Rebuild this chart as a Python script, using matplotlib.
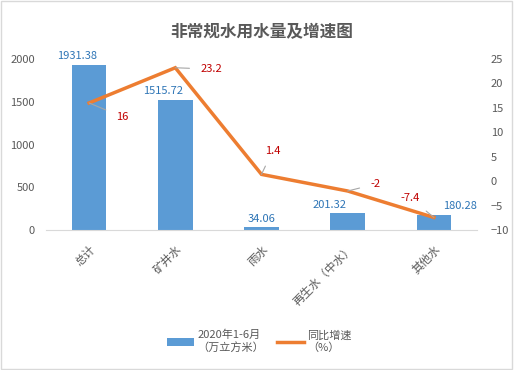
import matplotlib.pyplot as plt
from matplotlib.patches import Rectangle

plt.rcParams['font.family'] = ['Noto Sans CJK SC', 'DejaVu Sans']

# data
categories = ['总计', '矿井水', '雨水', '再生水（中水）', '其他水']
volume = [1931.38, 1515.72, 34.06, 201.32, 180.28]
growth = [16, 23.2, 1.4, -2, -7.4]

bar_color = '#5B9BD5'
line_color = '#ED7D31'
gray = '#595959'

fig = plt.figure(figsize=(5.14, 3.70), dpi=100)
ax = fig.add_axes([0.0895, 0.378, 0.8385, 0.4627])
ax2 = ax.twinx()

x = list(range(len(categories)))
bars = ax.bar(x, volume, width=0.4, color=bar_color, label='2020年1-6月\n（万立方米）')
ax.set_xlim(-0.5, len(categories) - 0.5)
ax.set_ylim(0, 2000)
ax.set_yticks(range(0, 2001, 500))

line, = ax2.plot(x, growth, color=line_color, lw=2.5, label='同比增速\n（%）', solid_joinstyle='miter')
ax2.set_ylim(-10, 25)
ax2.set_yticks(range(-10, 26, 5))

for a in (ax, ax2):
    for s in a.spines.values():
        s.set_visible(False)
    a.tick_params(length=0, labelsize=8, labelcolor=gray)
ax.spines['bottom'].set_visible(True)
ax.spines['bottom'].set_color('#D9D9D9')
ax.tick_params(axis='y', pad=8)
ax.tick_params(axis='x', pad=9)
ax2.tick_params(axis='y', pad=10)

ax.set_xticks(x)
ax.set_xticklabels(categories, rotation=45, ha='right', va='top',
                   rotation_mode='anchor', fontsize=8.3, color=gray)

# bar value labels (offsets in points)
bar_offsets = [(-9, 3), (-9, 3), (0, 2), (-13, 2), (19, 3)]
for xi, v, off in zip(x, volume, bar_offsets):
    ax.annotate(f'{v:.2f}', (xi, v), xytext=off, textcoords='offset points',
                ha='center', va='bottom', fontsize=8, color='#2E75B6')

# line value labels with leader lines
line_offsets = [(24, -10), (26, -1), (8, 17), (20, 5), (-17, 14)]
for xi, g, off in zip(x, growth, line_offsets):
    ax2.annotate(f'{g:g}', (xi, g), xytext=off, textcoords='offset points',
                 ha='center', va='center', fontsize=8, color='#C00000',
                 arrowprops=dict(arrowstyle='-', color='#A6A6A6', lw=0.8,
                                 shrinkA=6, shrinkB=0))

fig.text(0.51, 0.912, '非常规水用水量及增速图', ha='center', va='center',
         fontsize=12, fontweight='bold', color=gray)

fig.legend(handles=[bars, line], loc='center', bbox_to_anchor=(0.505, 0.077),
           ncol=2, frameon=False, fontsize=8, labelcolor=gray,
           handlelength=2.4, handletextpad=0.3, columnspacing=1.2)

fig.patches.append(Rectangle((0.002, 0.003), 0.994, 0.993, transform=fig.transFigure,
                             fill=False, edgecolor='#D9D9D9', lw=1))

fig.savefig('out.png', dpi=100)
